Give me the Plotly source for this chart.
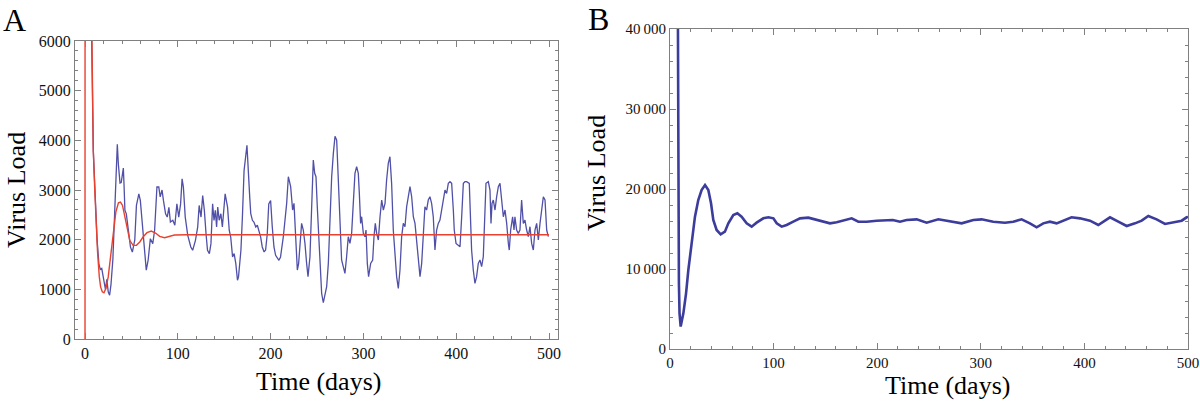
import plotly.graph_objects as go

# ---------------- Panel A data ----------------
a_blue_t = [6.0, 7.2, 8.9, 10, 11.5, 13, 15, 16.5, 18, 20, 22, 23.5, 25, 26.5, 28, 30, 32, 33.5, 34.8, 36,
            37.7, 39, 41.3, 42, 43, 44.5, 46.4, 49, 51, 53.6, 55.4, 58, 59.6, 60.7, 62.5, 64.3, 66, 68, 70.4, 73,
            75, 77.5, 79.5, 81, 83, 84.5, 86.8, 88.6, 90.4, 92, 94.6, 96.8, 99, 101, 103, 104.6, 106, 108, 110.7, 114,
            116, 119, 121.4, 123, 125, 126.8, 128.6, 130.4, 132, 134, 135.7, 137.5, 139, 140.4, 141.8, 143, 144.6, 146.4, 148, 151,
            153.6, 155.4, 157, 159, 160.7, 162.5, 164.3, 165.4, 168, 169.6, 171.4, 174.5, 176, 177.5, 178.6, 180.4, 182, 184,
            185.7, 187.5, 189.3, 191, 193, 194.6, 196.4, 198, 200, 201.8, 203.6, 205.4, 209, 210.7, 213.7, 217.3, 219.1, 221.6,
            223.7, 225.2, 227.3, 228.8, 230.2, 232.4, 233.4, 235.2, 237, 238.8, 240.3, 242.4, 244.2, 246, 247.5, 248.9,
            250.3, 251.8, 253.2, 255, 256.8, 258.6, 260.4, 262.2, 264, 265.8, 267.6, 269.4, 271.2, 273, 274.8, 276.5,
            278.3, 280.1, 281.9, 283.7, 285.5, 287.3, 289.1, 290.9, 292.7, 294.5, 295.6, 297, 298.1, 299.9, 301.7, 302.8,
            304.2, 305.6, 307.8, 310, 311.4, 312.8, 314.3, 316.1, 317.9, 319.7, 321.5, 323.3, 325, 326.8, 328.6, 330.4,
            332.2, 334, 335.8, 337.6, 339.4, 341.2, 343, 344.8, 346.6, 348.4, 350.2, 352, 353.8, 355.6, 357.4, 359.2,
            361, 362.8, 364.6, 366.3, 368.1, 369.9, 371.7, 373.5, 375.3, 377.1, 378.9, 380.7, 382.5, 384.3, 386.1, 387.9,
            389.7, 391.5, 393.3, 395.1, 396.9, 397.9, 399.8, 402.3, 404.1, 405.9, 407.7, 409.5, 411.2, 414.1, 415.6, 416.6,
            418.4, 420.2, 422, 423.8, 425.6, 427.4, 429.2, 431, 432.1, 434.6, 436.4, 437.5, 438.6, 440, 441.8, 443.6,
            445.4, 447.2, 449, 450.8, 452.6, 454.4, 456.2, 457.2, 458.7, 460.8, 462.3, 463.3, 465.1, 466.9, 468.7, 470.5,
            472.3, 474.1, 475.9, 477.7, 479.5, 481.3, 483.1, 484.9, 486.7, 488.5, 490.3, 492.1, 493.9, 495.7, 497.5, 499.3]
a_blue_v = [9000, 6000, 3800, 3300, 2600, 2000, 1500, 1400, 1420, 1180, 1000, 1200, 950, 880, 1100, 1600, 2500, 3350, 3920, 3500,
            3140, 3150, 3440, 3120, 2590, 2520, 2250, 1850, 1750, 1990, 2690, 2920, 2790, 2520, 2250, 1650, 1385, 1585, 2020, 1920,
            2190, 3060, 3060, 2860, 3000, 2790, 2520, 2455, 2650, 2355, 2390, 2290, 2720, 2455, 2720, 3224, 3057, 2455, 2087, 1853,
            1786, 1987, 2254, 2689, 2455, 2890, 2590, 2120, 1786, 1720, 1920, 2722, 2388, 2590, 2254, 2655, 2390, 2522, 2254, 2923,
            2655, 2190, 2053, 1652, 1719, 1518, 1184, 1250, 1786, 2455, 3391, 3900, 3257, 2856, 2522, 2390, 2355, 2254,
            2290, 2187, 2050, 1853, 1753, 1790, 2120, 2722, 2789, 2254, 1853, 1686, 1585, 1652, 2060, 2731, 3268, 3066,
            2597, 2731, 1925, 1389, 1523, 1993, 2328, 2194, 1925, 1523, 1255, 1657, 2462, 3603, 3335, 3268,
            2664, 2060, 1523, 919, 730, 919, 1053, 1523, 2395, 3268, 3737, 4080, 4006, 3201, 2194, 1590,
            1456, 1322, 1657, 2060, 1925, 2127, 2731, 3335, 3469, 3335, 2932, 2328, 2462, 2127, 2060, 2194,
            1523, 1255, 1523, 1590, 2060, 2328, 2127, 1993, 2462, 2798, 2597, 2731, 3201, 3536, 3670, 3134,
            2194, 1590, 1255, 1020, 1389, 2060, 2328, 2261, 2664, 2865, 3066, 2865, 2462, 2328, 1993, 1724,
            1255, 1523, 2194, 2664, 2597, 2798, 2865, 2731, 2462, 1791, 2194, 2328, 2395, 2597, 2865, 2999,
            2932, 3134, 3167, 3134, 2597, 2194, 1925, 1892, 1858, 2462, 3134, 3167, 3167, 3134, 2462, 1791,
            1389, 1120, 1255, 1523, 1590, 1456, 1657, 2462, 3134, 3167, 2999, 2328, 2731, 2798, 2597, 2865,
            3066, 3134, 2731, 2462, 2597, 2328, 1925, 1791, 2194, 2462, 2194, 2462, 2194, 2127, 2194, 2798,
            2328, 2395, 2194, 2060, 2261, 1925, 1791, 2194, 2328, 1993, 2328, 2597, 2865, 2798, 2194, 2060]

a_red_t = [0, 0.3, 6.5, 7.2, 8.9, 10.5, 12, 13.5, 15.4, 16.8, 18.6, 20.4, 22.5, 25, 27.5, 30.4, 33.2, 36, 38.2, 40.4,
           42.9, 45.4, 48.2, 51.8, 55.4, 59, 62.5, 66.8, 71.4, 76, 80.4, 85.7, 91, 96.4, 110, 150, 200, 300, 400, 500]
a_red_v = [0, 60000, 7500, 6000, 3800, 3000, 2350, 1750, 1250, 1050, 950, 930, 1017, 1250, 1652, 2120, 2555, 2742, 2756, 2689,
           2455, 2187, 1987, 1886, 1886, 1953, 2053, 2140, 2174, 2134, 2067, 2040, 2067, 2094, 2100, 2100, 2100, 2100, 2100, 2100]

# ---------------- Panel B data ----------------
b_t = [6.5, 7.4, 7.6, 7.8, 8.0, 8.6, 9.2, 10.3, 12.9, 15.5, 17.7, 20.9, 24.1, 27.3, 30.5, 33.8, 37, 39.6, 41.8, 45,
       48.9, 53, 56.3, 61.1, 65, 69.1, 74, 78.8, 83.6, 90.1, 95, 99.8, 103, 107.8, 112.6, 119, 125.5, 133.5, 141.6, 148,
       154.4, 160.9, 167.3, 175.4, 181.8, 189.8, 199.5, 209.1, 215, 222, 228.4, 238.1, 247.7, 259, 270.3, 281.5, 292.8,
       300.8, 312, 323.3, 331.3, 339.4, 347.4, 353.9, 360.3, 366.7, 373.2, 379.6, 387.6, 395.7, 405.4, 413.4, 418.2,
       424.7, 432.7, 440.8, 448.8, 455.3, 461.7, 469.7, 477.8, 485.8, 493.9, 498.7, 500]
b_v = [80000, 40000, 29000, 21000, 15300, 8250, 4460, 2800, 4460, 6960, 9875, 13625, 16540, 18625, 19875, 20500, 19875, 18208, 16125, 14875,
       14333, 14666, 15708, 16750, 16960, 16540, 15708, 15290, 15790, 16333, 16460, 16333, 15708, 15290, 15500, 15915, 16333, 16420, 16125, 15915,
       15708, 15833, 16040, 16333, 15915, 15915, 16040, 16125, 16125, 15915, 16125, 16208, 15790, 16208, 15915, 15708, 16125,
       16208, 15915, 15790, 15915, 16208, 15708, 15208, 15708, 15915, 15708, 16040, 16460, 16333, 16040, 15500, 15915,
       16460, 15915, 15375, 15708, 16040, 16625, 16208, 15625, 15790, 16040, 16460, 16500]

# ---------------- Tick labels ----------------
a_xtick_vals = [0, 100, 200, 300, 400, 500]
a_ytick_vals = [0, 1000, 2000, 3000, 4000, 5000, 6000]
b_xtick_vals = [0, 100, 200, 300, 400, 500]
b_ytick_vals = [0, 10000, 20000, 30000, 40000]
b_ytick_text = ["0", "10\u2009000", "20\u2009000", "30\u2009000", "40\u2009000"]

W, H = 1200, 402
SERIF = "Liberation Serif"
FRAME = "#808080"

fig = go.Figure()
fig.add_trace(go.Scatter(x=a_blue_t, y=a_blue_v, mode="lines", line=dict(color="#5050a8", width=1.3),
                         xaxis="x", yaxis="y", showlegend=False, hoverinfo="skip"))
fig.add_trace(go.Scatter(x=a_red_t, y=a_red_v, mode="lines", line=dict(color="#e8412f", width=1.4),
                         xaxis="x", yaxis="y", showlegend=False, hoverinfo="skip"))
fig.add_trace(go.Scatter(x=b_t, y=b_v, mode="lines", line=dict(color="#3c3c9c", width=2.6),
                         xaxis="x2", yaxis="y2", showlegend=False, hoverinfo="skip"))

def ax(domain, rng, tickvals, minor_dtick, anchor, ticktext=None, size=16):
    d = dict(domain=domain, range=rng, anchor=anchor, tickvals=tickvals, automargin=False,
             showline=True, linecolor=FRAME, linewidth=1, mirror="ticks",
             ticks="inside", ticklen=6, tickcolor=FRAME, tickwidth=1,
             showgrid=False, zeroline=False,
             tickfont=dict(family=SERIF, size=size, color="#111"),
             minor=dict(dtick=minor_dtick, ticks="inside", ticklen=3, tickcolor=FRAME, showgrid=False))
    if ticktext is not None:
        d["ticktext"] = ticktext
    return d

def px_x(p):
    return p / W

def px_y(p):
    return 1 - p / H

# plot-area geometry in page pixels
ax_l, ax_r, ax_t, ax_b = 75, 558, 41, 339
bx_l, bx_r, bx_t, bx_b = 670, 1188, 29, 349

fig.update_layout(
    template="none",
    width=W, height=H, margin=dict(l=0, r=0, t=0, b=0, pad=0, autoexpand=False),
    paper_bgcolor="white", plot_bgcolor="white",
    xaxis=ax([px_x(ax_l), px_x(ax_r)], [-10.8, 509.7], a_xtick_vals, 20, "y"),
    yaxis=ax([px_y(ax_b), px_y(ax_t)], [0, 6000], a_ytick_vals, 200, "x"),
    xaxis2=ax([px_x(bx_l), px_x(bx_r)], [0, 500], b_xtick_vals, 20, "y2", size=15),
    yaxis2=ax([px_y(bx_b), px_y(bx_t)], [0, 40000], b_ytick_vals, 2000, "x2", ticktext=b_ytick_text, size=15),
)

def ann(text, x, y, size, angle=0):
    fig.add_annotation(text=text, x=px_x(x), y=px_y(y), xref="paper", yref="paper",
                       showarrow=False, textangle=angle, xanchor="center", yanchor="middle",
                       font=dict(family=SERIF, size=size, color="black"))

ann("A", 14, 20, 32)
ann("B", 598, 19, 32)
ann("Virus Load", 17, 190, 26, -90)
ann("Time (days)", 318, 381, 26)
ann("Virus Load", 596, 173, 26, -90)
ann("Time (days)", 947, 385, 26)

# remove the default page margin so the figure sits at the window's top-left corner
fig.write_html("out.html", config={"displayModeBar": False, "staticPlot": True},
               post_script="document.body.style.margin='0';document.body.style.overflow='hidden';")
